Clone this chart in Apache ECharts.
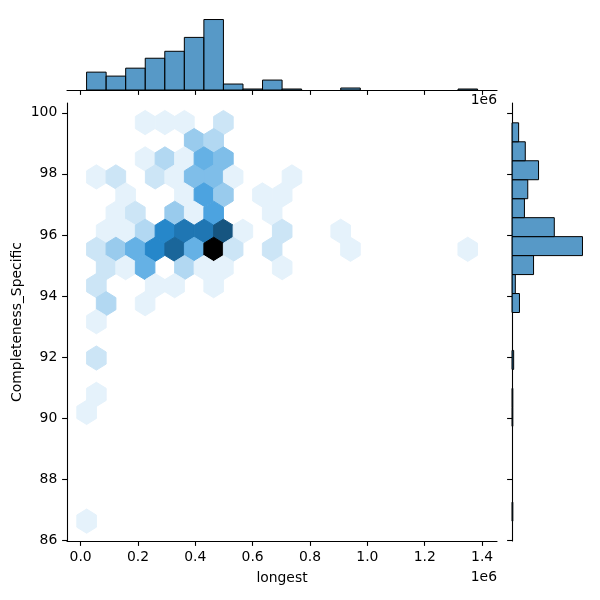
<!DOCTYPE html>
<html>
<head>
<meta charset="utf-8">
<script src="https://cdn.jsdelivr.net/npm/echarts@6/dist/echarts.min.js"></script>
<style>
  html, body { margin: 0; padding: 0; background: #fff; }
  #jointChart { width: 600px; height: 600px; }
</style>
</head>
<body>
<div id="jointChart"></div>
<script>
// x values are in units of 1e6
const xTicks = [0.0, 0.2, 0.4, 0.6, 0.8, 1.0, 1.2, 1.4];
const yTicks = [86, 88, 90, 92, 94, 96, 98, 100];

// hexbin cells (centre x, centre y, count)
const hexX = [
  0.225, 0.294, 0.362, 0.498,
  0.396, 0.464,
  0.225, 0.294, 0.362, 0.430, 0.498,
  0.055, 0.123, 0.260, 0.328, 0.396, 0.464, 0.532, 0.737,
  0.157, 0.362, 0.430, 0.498, 0.634, 0.703,
  0.123, 0.191, 0.328, 0.396, 0.464, 0.668,
  0.089, 0.157, 0.225, 0.294, 0.362, 0.430, 0.498, 0.566, 0.703, 0.907,
  0.055, 0.123, 0.191, 0.260, 0.328, 0.396, 0.464, 0.532, 0.668, 0.941, 1.350,
  0.089, 0.157, 0.225, 0.362, 0.430, 0.498, 0.703,
  0.055, 0.260, 0.328, 0.464,
  0.089, 0.225,
  0.055,
  0.055,
  0.055,
  0.021,
  0.021
];
const hexY = [
  99.68, 99.68, 99.68, 99.68,
  99.09, 99.09,
  98.49, 98.49, 98.49, 98.49, 98.49,
  97.90, 97.90, 97.90, 97.90, 97.90, 97.90, 97.90, 97.90,
  97.31, 97.31, 97.31, 97.31, 97.31, 97.31,
  96.71, 96.71, 96.71, 96.71, 96.71, 96.71,
  96.12, 96.12, 96.12, 96.12, 96.12, 96.12, 96.12, 96.12, 96.12, 96.12,
  95.53, 95.53, 95.53, 95.53, 95.53, 95.53, 95.53, 95.53, 95.53, 95.53, 95.53,
  94.93, 94.93, 94.93, 94.93, 94.93, 94.93, 94.93,
  94.34, 94.34, 94.34, 94.34,
  93.75, 93.75,
  93.16,
  91.97,
  90.78,
  90.19,
  86.63
];
const hexCount = [
  1, 1, 1, 2,
  4, 3,
  1, 3, 1, 6, 5,
  1, 2, 2, 1, 5, 5, 1, 1,
  1, 1, 7, 4, 1, 1,
  1, 2, 4, 1, 7, 1,
  1, 1, 3, 9, 10, 10, 12, 1, 2, 1,
  2, 4, 6, 9, 11, 6, 17, 2, 2, 1, 1,
  2, 1, 6, 3, 1, 1, 1,
  2, 1, 1, 1,
  3, 1,
  1,
  2,
  1,
  1,
  1
];

// marginal histograms
const xBinStart = 0.0209;
const xBinWidth = 0.06817;
const xCounts = [18, 14, 22, 32, 39, 53, 71, 6, 1, 10, 1, 0, 0, 2, 0, 0, 0, 0, 0, 1];
const yBinStart = 86.63;
const yBinWidth = 0.621;
const yCounts = [1, 0, 0, 0, 0, 1, 1, 0, 2, 0, 0, 9, 4, 26, 85, 51, 15, 19, 32, 16, 8];

// hex cell size in data units
const hexW = 0.06817;
const hexH = 1.1864;

const xLim = [-0.0474, 1.452];
const yLim = [85.98, 100.32];

const FONT = 'DejaVu Sans';
const FS = 13.9;

// seaborn style cmap: base colour at lightness 1 -> 0
function rgbToHls(r, g, b) {
  const mx = Math.max(r, g, b), mn = Math.min(r, g, b);
  const l = (mx + mn) / 2;
  if (mx === mn) return [0, l, 0];
  const s = l <= 0.5 ? (mx - mn) / (mx + mn) : (mx - mn) / (2 - mx - mn);
  const rc = (mx - r) / (mx - mn), gc = (mx - g) / (mx - mn), bc = (mx - b) / (mx - mn);
  let h;
  if (r === mx) h = bc - gc;
  else if (g === mx) h = 2 + rc - bc;
  else h = 4 + gc - rc;
  h = ((h / 6) % 1 + 1) % 1;
  return [h, l, s];
}
function hv(m1, m2, hue) {
  hue = ((hue % 1) + 1) % 1;
  if (hue < 1 / 6) return m1 + (m2 - m1) * hue * 6;
  if (hue < 0.5) return m2;
  if (hue < 2 / 3) return m1 + (m2 - m1) * (2 / 3 - hue) * 6;
  return m1;
}
function hlsToRgb(h, l, s) {
  if (s === 0) return [l, l, l];
  const m2 = l <= 0.5 ? l * (1 + s) : l + s - l * s;
  const m1 = 2 * l - m2;
  return [hv(m1, m2, h + 1 / 3), hv(m1, m2, h), hv(m1, m2, h - 1 / 3)];
}
const base = rgbToHls(31 / 255, 119 / 255, 180 / 255);
const stops = [];
for (let k = 0; k < 12; k++) {
  const l = 1 - k / 11;
  stops.push(hlsToRgb(base[0], Math.min(1, Math.max(0, l)), base[2]));
}
function hexColor(t) {
  t = Math.max(0, Math.min(1, t));
  const p = t * 11;
  const i = Math.min(10, Math.floor(p));
  const f = p - i;
  const c = stops[i].map((v, j) => Math.round(255 * (v + (stops[i + 1][j] - v) * f)));
  return 'rgb(' + c.join(',') + ')';
}
const maxCount = Math.max(...hexCount);

const hexData = hexX.map((x, i) => [x, hexY[i], hexCount[i]]);
const topData = xCounts.map((n, i) => [xBinStart + i * xBinWidth, n, xBinStart + (i + 1) * xBinWidth]).filter(d => d[1] > 0);
const rightData = yCounts.map((n, i) => [n, yBinStart + i * yBinWidth, yBinStart + (i + 1) * yBinWidth]).filter(d => d[0] > 0);

const barFill = 'rgba(31,119,180,0.75)';
const axisLine = { show: true, onZero: false, lineStyle: { color: '#000', width: 1.1 } };
const tickStyle = { color: '#000', width: 1.1 };

let chart = echarts.init(document.getElementById('jointChart'));
chart.setOption({
  animation: false,
  backgroundColor: '#fff',
  grid: [
    { left: 67, top: 103, width: 430, height: 438 },
    { left: 67, top: 16, width: 430, height: 74 },
    { left: 512, top: 103, width: 74, height: 438 }
  ],
  xAxis: [
    {
      gridIndex: 0, type: 'value', min: xLim[0], max: xLim[1],
      axisLine: axisLine,
      axisTick: { show: true, length: 4.9, customValues: xTicks, lineStyle: tickStyle },
      axisLabel: {
        customValues: xTicks, margin: 9.7, color: '#000', fontFamily: FONT, fontSize: FS,
        formatter: v => v.toFixed(1)
      },
      splitLine: { show: false }
    },
    {
      gridIndex: 1, type: 'value', min: xLim[0], max: xLim[1],
      axisLine: axisLine,
      axisTick: { show: true, length: 4.9, customValues: xTicks, lineStyle: tickStyle },
      axisLabel: { show: false },
      splitLine: { show: false }
    },
    {
      gridIndex: 2, type: 'value', min: 0, max: Math.max(...yCounts) * 1.05, show: false
    }
  ],
  yAxis: [
    {
      gridIndex: 0, type: 'value', min: yLim[0], max: yLim[1],
      axisLine: axisLine,
      axisTick: { show: true, length: 4.9, customValues: yTicks, lineStyle: tickStyle },
      axisLabel: {
        customValues: yTicks, margin: 9.7, color: '#000', fontFamily: FONT, fontSize: FS,
        formatter: v => String(v)
      },
      splitLine: { show: false }
    },
    {
      gridIndex: 1, type: 'value', min: 0, max: Math.max(...xCounts) * 1.05, show: false
    },
    {
      gridIndex: 2, type: 'value', min: yLim[0], max: yLim[1],
      axisLine: axisLine,
      axisTick: { show: true, length: 4.9, customValues: yTicks, lineStyle: tickStyle },
      axisLabel: { show: false },
      splitLine: { show: false }
    }
  ],
  series: [
    {
      type: 'custom', xAxisIndex: 0, yAxisIndex: 0,
      data: hexData,
      renderItem: function (params, api) {
        const c = api.coord([api.value(0), api.value(1)]);
        const s = api.size([hexW, hexH]);
        const w = s[0] / 2, h = s[1] / 6;
        const col = hexColor(api.value(2) / maxCount);
        return {
          type: 'polygon',
          shape: { points: [
            [c[0] + w, c[1] + h], [c[0] + w, c[1] - h], [c[0], c[1] - 2 * h],
            [c[0] - w, c[1] - h], [c[0] - w, c[1] + h], [c[0], c[1] + 2 * h]
          ] },
          style: { fill: col, stroke: col, lineWidth: 1 }
        };
      }
    },
    {
      type: 'custom', xAxisIndex: 1, yAxisIndex: 1,
      data: topData,
      renderItem: function (params, api) {
        const p0 = api.coord([api.value(0), api.value(1)]);
        const p1 = api.coord([api.value(2), 0]);
        return {
          type: 'rect',
          shape: { x: p0[0], y: p0[1], width: p1[0] - p0[0], height: p1[1] - p0[1] },
          style: { fill: barFill, stroke: '#000', lineWidth: 1 }
        };
      }
    },
    {
      type: 'custom', xAxisIndex: 2, yAxisIndex: 2,
      data: rightData,
      encode: { x: 0, y: 1 },
      renderItem: function (params, api) {
        const p0 = api.coord([0, api.value(2)]);
        const p1 = api.coord([api.value(0), api.value(1)]);
        return {
          type: 'rect',
          shape: { x: p0[0], y: p0[1], width: p1[0] - p0[0], height: p1[1] - p0[1] },
          style: { fill: barFill, stroke: '#000', lineWidth: 1 }
        };
      }
    }
  ],
  graphic: [
    { type: 'text', x: 282, y: 578, style: { text: 'longest', font: FS + 'px ' + FONT, fill: '#000', align: 'center', verticalAlign: 'middle' } },
    { type: 'text', x: 17, y: 322, rotation: Math.PI / 2, style: { text: 'Completeness_Specific', font: FS + 'px ' + FONT, fill: '#000', align: 'center', verticalAlign: 'middle' } },
    { type: 'text', x: 497, y: 577, style: { text: '1e6', font: FS + 'px ' + FONT, fill: '#000', align: 'right', verticalAlign: 'middle' } },
    { type: 'text', x: 497, y: 100, style: { text: '1e6', font: FS + 'px ' + FONT, fill: '#000', align: 'right', verticalAlign: 'middle' } }
  ]
});
</script>
</body>
</html>
